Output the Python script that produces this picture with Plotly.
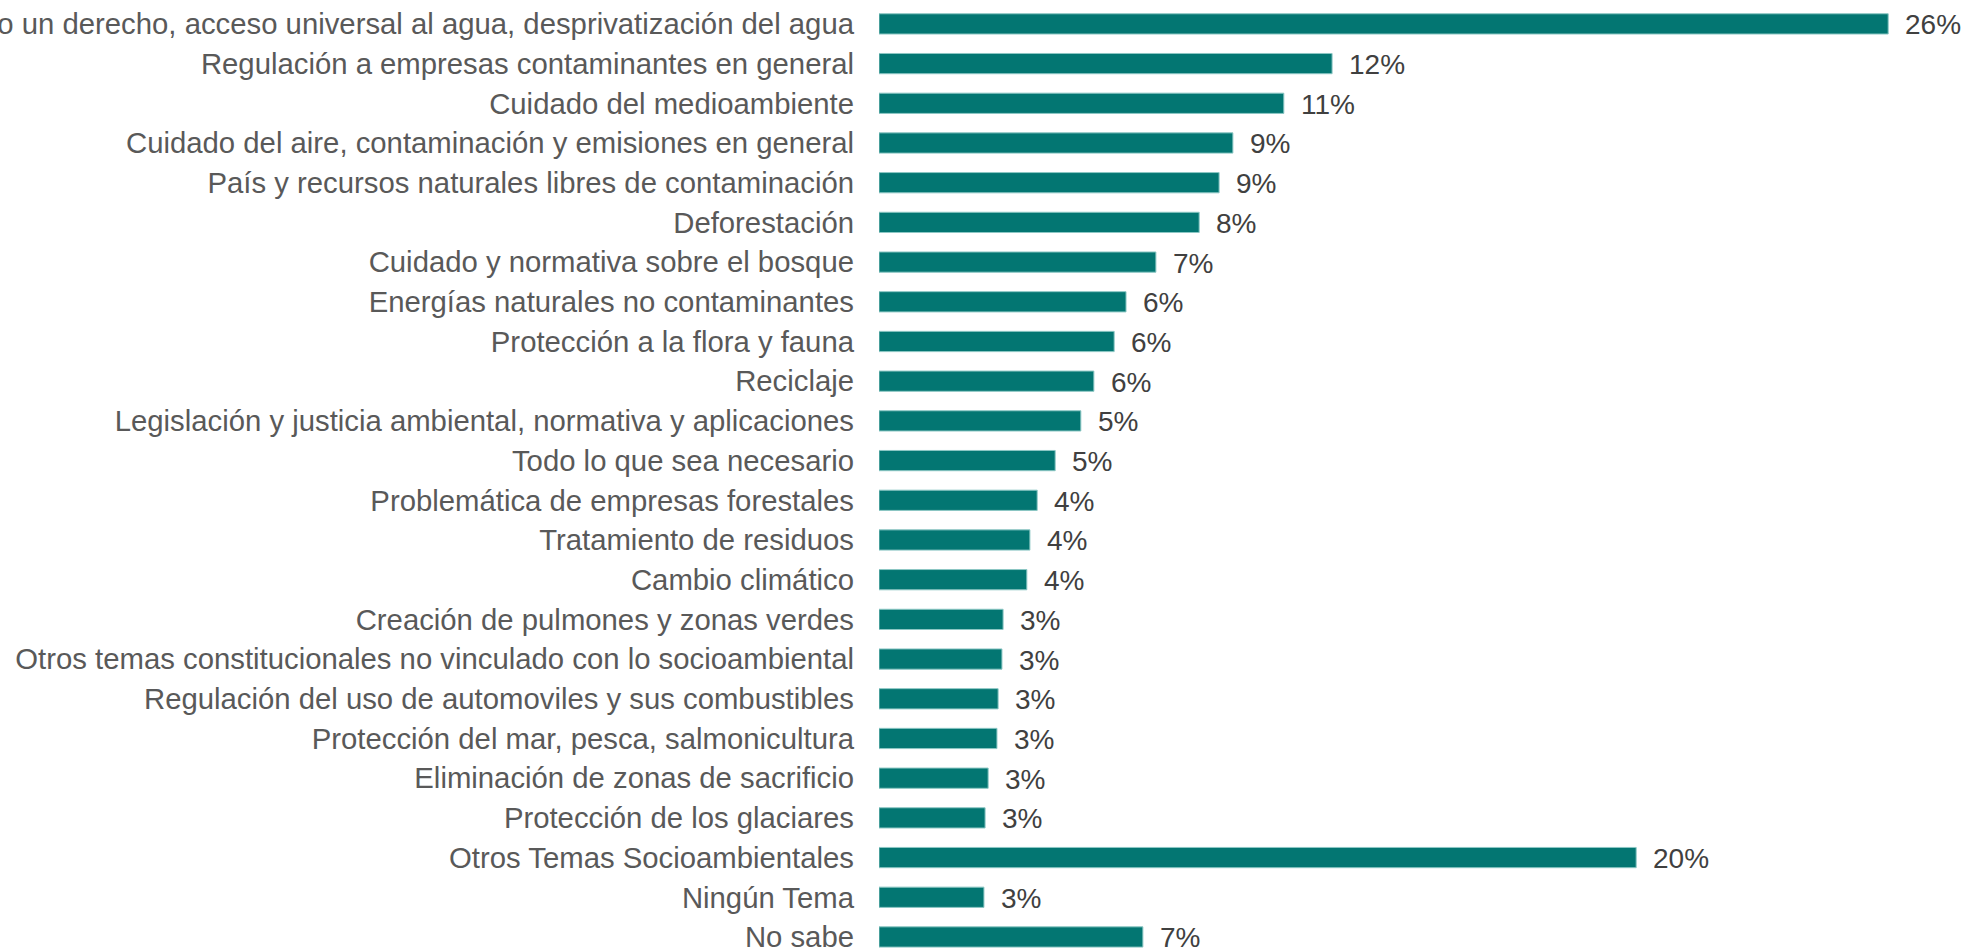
import plotly.graph_objects as go

categories = [
    "Agua como un derecho, acceso universal al agua, desprivatización del agua",
    "Regulación a empresas contaminantes en general",
    "Cuidado del medioambiente",
    "Cuidado del aire, contaminación y emisiones en general",
    "País y recursos naturales libres de contaminación",
    "Deforestación",
    "Cuidado y normativa sobre el bosque",
    "Energías naturales no contaminantes",
    "Protección a la flora y fauna",
    "Reciclaje",
    "Legislación y justicia ambiental, normativa y aplicaciones",
    "Todo lo que sea necesario",
    "Problemática de empresas forestales",
    "Tratamiento de residuos",
    "Cambio climático",
    "Creación de pulmones y zonas verdes",
    "Otros temas constitucionales no vinculado con lo socioambiental",
    "Regulación del uso de automoviles y sus combustibles",
    "Protección del mar, pesca, salmonicultura",
    "Eliminación de zonas de sacrificio",
    "Protección de los glaciares",
    "Otros Temas Socioambientales",
    "Ningún Tema",
    "No sabe",
]

values = [26.35, 11.83, 10.57, 9.24, 8.88, 8.36, 7.23, 6.45, 6.14, 5.61, 5.27, 4.60,
          4.13, 3.94, 3.86, 3.24, 3.21, 3.11, 3.08, 2.85, 2.77, 19.77, 2.74, 6.89]

value_labels = ["26%", "12%", "11%", "9%", "9%", "8%", "7%", "6%", "6%", "6%", "5%", "5%",
                "4%", "4%", "4%", "3%", "3%", "3%", "3%", "3%", "3%", "20%", "3%", "7%"]

positions = list(range(len(categories)))

BAR_COLOR = "#037672"
EDGE_COLOR = "#8cc7c4"
LABEL_COLOR = "#595959"
VALUE_COLOR = "#404040"
FONT = "Liberation Sans, Arial, sans-serif"

fig = go.Figure()
fig.add_trace(go.Bar(
    x=values,
    y=positions,
    orientation="h",
    width=0.51,
    marker=dict(color=BAR_COLOR, line=dict(color=EDGE_COLOR, width=1)),
    hoverinfo="skip",
))

for pos, val, lab in zip(positions, values, value_labels):
    fig.add_annotation(
        x=val, y=pos, text=lab, showarrow=False,
        xanchor="left", yanchor="middle", xshift=15, yshift=-1,
        font=dict(family=FONT, size=28, color=VALUE_COLOR),
    )

fig.update_layout(
    width=1969, height=948,
    margin=dict(l=879, r=0, t=0, b=0),
    paper_bgcolor="white", plot_bgcolor="white",
    showlegend=False,
    font=dict(family=FONT),
    xaxis=dict(range=[0, 28.46], visible=False, fixedrange=True),
    yaxis=dict(
        range=[23.278, -0.602],
        tickmode="array", tickvals=positions, ticktext=categories,
        tickfont=dict(family=FONT, size=29.3, color=LABEL_COLOR),
        showgrid=False, zeroline=False, showline=False, ticks="",
        ticklabelstandoff=24,
        ticklabeloverflow="allow",
        automargin=False,
        fixedrange=True,
    ),
)

fig.write_html(
    "out.html",
    config={"displayModeBar": False},
    post_script="document.body.style.margin='0';document.body.style.overflow='hidden';",
)
